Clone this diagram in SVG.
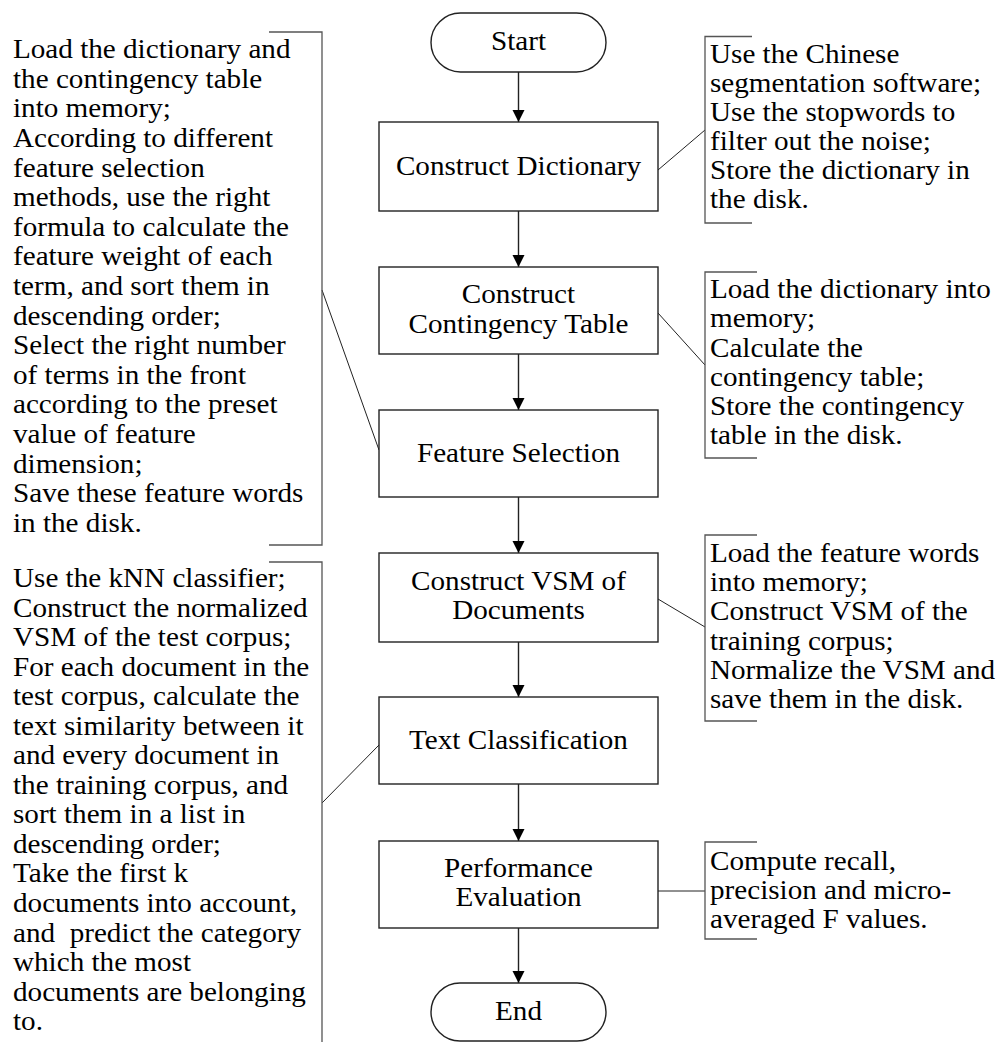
<svg xmlns="http://www.w3.org/2000/svg" width="1003" height="1042" viewBox="0 0 1003 1042">
<defs>
<style>
.box{fill:#fff;stroke:#222;stroke-width:1.4}
.t{font-family:"Liberation Serif","Times New Roman",serif;font-size:26.5px;fill:#000}
.c{text-anchor:middle}
.br{fill:none;stroke:#555;stroke-width:1.3}
.ln{fill:none;stroke:#222;stroke-width:1}
.ar{fill:none;stroke:#222;stroke-width:1.4}
</style>
<marker id="ah" markerUnits="userSpaceOnUse" markerWidth="13" markerHeight="13" refX="12" refY="6" orient="auto">
<path d="M0,0 L12,6 L0,12 Z" fill="#000"/>
</marker>
</defs>
<rect width="1003" height="1042" fill="#fff"/>

<g id="connectors">
<line class="ar" x1="518.5" y1="72" x2="518.5" y2="122" marker-end="url(#ah)"/>
<line class="ar" x1="518.5" y1="211" x2="518.5" y2="267" marker-end="url(#ah)"/>
<line class="ar" x1="518.5" y1="354" x2="518.5" y2="410" marker-end="url(#ah)"/>
<line class="ar" x1="518.5" y1="497" x2="518.5" y2="553" marker-end="url(#ah)"/>
<line class="ar" x1="518.5" y1="642" x2="518.5" y2="697" marker-end="url(#ah)"/>
<line class="ar" x1="518.5" y1="784" x2="518.5" y2="841" marker-end="url(#ah)"/>
<line class="ar" x1="518.5" y1="928" x2="518.5" y2="983" marker-end="url(#ah)"/>
<line class="ln" x1="658" y1="170" x2="705" y2="130"/>
<line class="ln" x1="658" y1="313" x2="705" y2="365"/>
<line class="ln" x1="658" y1="599" x2="705" y2="627"/>
<line class="ln" x1="658" y1="891" x2="705" y2="891"/>
<line class="ln" x1="322" y1="290" x2="379" y2="450"/>
<line class="ln" x1="322" y1="803" x2="379" y2="745"/>
</g>

<g id="start">
<rect class="box" x="431" y="13" width="175" height="59" rx="29.5" ry="29.5"/>
<text class="t c" transform="translate(518.5,50) scale(1.1,1)">Start</text>
</g>
<g id="construct-dictionary">
<rect class="box" x="379" y="122" width="279" height="89"/>
<text class="t c" transform="translate(518.5,175) scale(1.1,1)">Construct Dictionary</text>
</g>
<g id="construct-contingency">
<rect class="box" x="379" y="267" width="279" height="87"/>
<text class="t c" transform="translate(518.5,303) scale(1.1,1)">Construct</text>
<text class="t c" transform="translate(518.5,333) scale(1.1,1)">Contingency Table</text>
</g>
<g id="feature-selection">
<rect class="box" x="379" y="410" width="279" height="87"/>
<text class="t c" transform="translate(518.5,462) scale(1.1,1)">Feature Selection</text>
</g>
<g id="construct-vsm">
<rect class="box" x="379" y="553" width="279" height="89"/>
<text class="t c" transform="translate(518.5,590) scale(1.1,1)">Construct VSM of</text>
<text class="t c" transform="translate(518.5,619) scale(1.1,1)">Documents</text>
</g>
<g id="text-classification">
<rect class="box" x="379" y="697" width="279" height="87"/>
<text class="t c" transform="translate(518.5,749) scale(1.1,1)">Text Classification</text>
</g>
<g id="performance-evaluation">
<rect class="box" x="379" y="841" width="279" height="87"/>
<text class="t c" transform="translate(518.5,877) scale(1.1,1)">Performance</text>
<text class="t c" transform="translate(518.5,906) scale(1.1,1)">Evaluation</text>
</g>
<g id="end">
<rect class="box" x="431" y="983" width="175" height="58" rx="29" ry="29"/>
<text class="t c" transform="translate(518.5,1020) scale(1.1,1)">End</text>
</g>

<g id="note-dictionary">
<path class="br" d="M752,36.5 H705 V223 H752"/>
<text class="t" transform="translate(710,63) scale(1.1,1)"><tspan x="0" y="0">Use the Chinese</tspan><tspan x="0" dy="29">segmentation software;</tspan><tspan x="0" dy="29">Use the stopwords to</tspan><tspan x="0" dy="29">filter out the noise;</tspan><tspan x="0" dy="29">Store the dictionary in</tspan><tspan x="0" dy="29">the disk.</tspan></text>
</g>
<g id="note-contingency">
<path class="br" d="M757,272 H705 V458 H757"/>
<text class="t" transform="translate(710,298) scale(1.1,1)"><tspan x="0" y="0">Load the dictionary into</tspan><tspan x="0" dy="29.3">memory;</tspan><tspan x="0" dy="29.3">Calculate the</tspan><tspan x="0" dy="29.3">contingency table;</tspan><tspan x="0" dy="29.3">Store the contingency</tspan><tspan x="0" dy="29.3">table in the disk.</tspan></text>
</g>
<g id="note-vsm">
<path class="br" d="M757,535 H705 V721 H757"/>
<text class="t" transform="translate(710,562) scale(1.1,1)"><tspan x="0" y="0">Load the feature words</tspan><tspan x="0" dy="29.2">into memory;</tspan><tspan x="0" dy="29.2">Construct VSM of the</tspan><tspan x="0" dy="29.2">training corpus;</tspan><tspan x="0" dy="29.2">Normalize the VSM and</tspan><tspan x="0" dy="29.2">save them in the disk.</tspan></text>
</g>
<g id="note-performance">
<path class="br" d="M757,842 H705 V939 H757"/>
<text class="t" transform="translate(710,870) scale(1.1,1)"><tspan x="0" y="0">Compute recall,</tspan><tspan x="0" dy="29">precision and micro-</tspan><tspan x="0" dy="29">averaged F values.</tspan></text>
</g>
<g id="note-feature">
<path class="br" d="M269,32 H322 V545 H269"/>
<text class="t" transform="translate(13,58.3) scale(1.1,1)"><tspan x="0" y="0">Load the dictionary and</tspan><tspan x="0" dy="29.6">the contingency table</tspan><tspan x="0" dy="29.6">into memory;</tspan><tspan x="0" dy="29.6">According to different</tspan><tspan x="0" dy="29.6">feature selection</tspan><tspan x="0" dy="29.6">methods, use the right</tspan><tspan x="0" dy="29.6">formula to calculate the</tspan><tspan x="0" dy="29.6">feature weight of each</tspan><tspan x="0" dy="29.6">term, and sort them in</tspan><tspan x="0" dy="29.6">descending order;</tspan><tspan x="0" dy="29.6">Select the right number</tspan><tspan x="0" dy="29.6">of terms in the front</tspan><tspan x="0" dy="29.6">according to the preset</tspan><tspan x="0" dy="29.6">value of feature</tspan><tspan x="0" dy="29.6">dimension;</tspan><tspan x="0" dy="29.6">Save these feature words</tspan><tspan x="0" dy="29.6">in the disk.</tspan></text>
</g>
<g id="note-classification">
<path class="br" d="M269,562 H322 V1042"/>
<text class="t" transform="translate(13,587) scale(1.1,1)"><tspan x="0" y="0">Use the kNN classifier;</tspan><tspan x="0" dy="29.55">Construct the normalized</tspan><tspan x="0" dy="29.55">VSM of the test corpus;</tspan><tspan x="0" dy="29.55">For each document in the</tspan><tspan x="0" dy="29.55">test corpus, calculate the</tspan><tspan x="0" dy="29.55">text similarity between it</tspan><tspan x="0" dy="29.55">and every document in</tspan><tspan x="0" dy="29.55">the training corpus, and</tspan><tspan x="0" dy="29.55">sort them in a list in</tspan><tspan x="0" dy="29.55">descending order;</tspan><tspan x="0" dy="29.55">Take the first k</tspan><tspan x="0" dy="29.55">documents into account,</tspan><tspan x="0" dy="29.55" xml:space="preserve">and  predict the category</tspan><tspan x="0" dy="29.55">which the most</tspan><tspan x="0" dy="29.55">documents are belonging</tspan><tspan x="0" dy="29.55">to.</tspan></text>
</g>
</svg>
